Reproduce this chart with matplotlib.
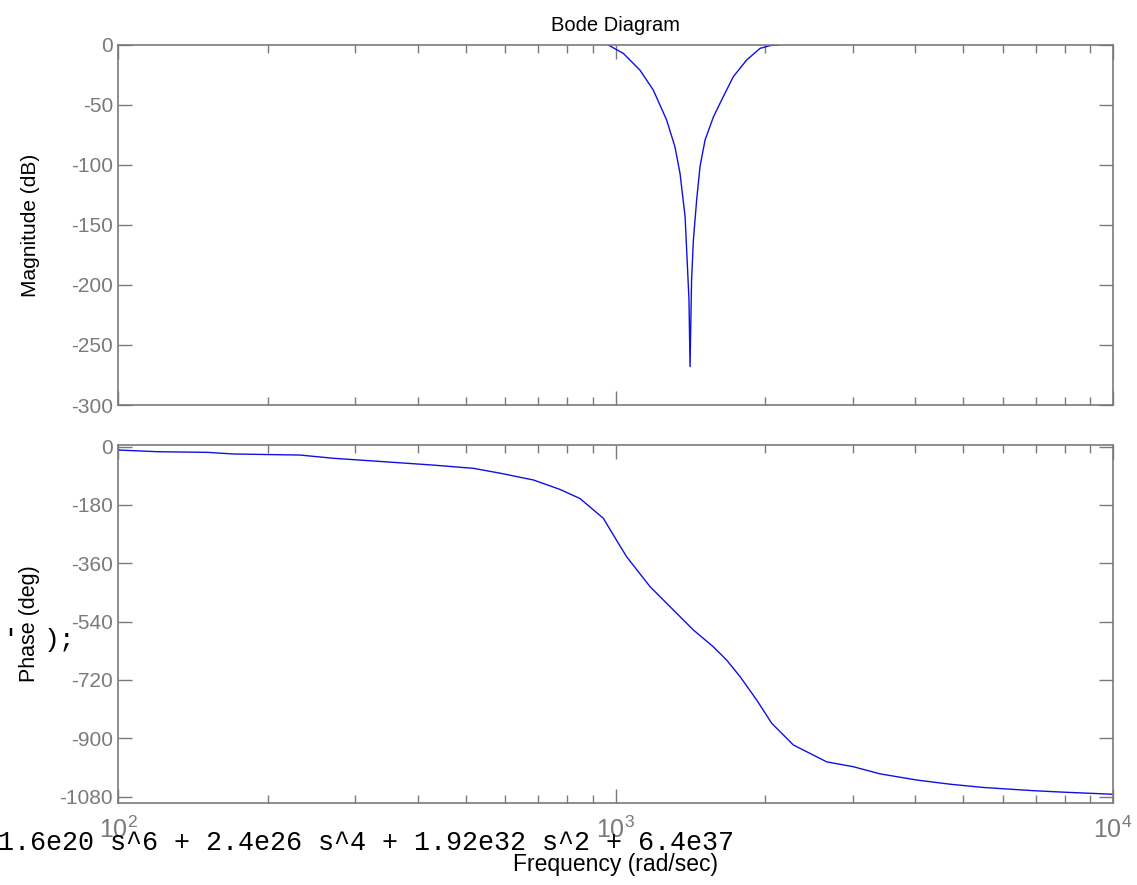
import numpy as np
import matplotlib.pyplot as plt
from matplotlib.ticker import FixedLocator, NullFormatter

# magnitude (notch)
mag_w = [967, 1037, 1120, 1191, 1267, 1317, 1348, 1380, 1397, 1405, 1412,
         1422, 1434, 1456, 1479, 1514, 1573, 1647, 1725, 1835, 1952, 2045, 2125]
mag_db = [0, -7, -21, -37.5, -62.5, -85, -107, -143, -190, -212, -268,
          -196, -162.5, -129, -101, -79, -60, -43, -26.4, -12.5, -2.8, -0.5, 0]

# phase
ph_w = [100, 120, 151, 171, 232, 271, 342, 430, 518, 586, 684, 773, 848,
        945, 1013, 1053, 1173, 1287, 1434, 1573, 1673, 1780, 1922, 2061,
        2278, 2658, 3006, 3401, 4027, 4704, 5483, 6918, 8066, 10000]
ph_deg = [-10.5, -15.7, -17.7, -22.8, -26, -36, -46.5, -57, -67, -82, -103,
          -132, -160, -221, -298, -340, -432, -494, -566, -618, -659, -710,
          -782, -854, -921, -973, -988, -1010, -1029, -1042, -1052, -1062,
          -1067, -1073]

mag_ticks = [0, -50, -100, -150, -200, -250, -300]
ph_ticks = [0, -180, -360, -540, -720, -900, -1080]
x_ticks = [1e2, 1e3, 1e4]
x_labels = ['$10^{2}$', '$10^{3}$', '$10^{4}$']

plt.rcParams['font.family'] = ['Liberation Sans', 'DejaVu Sans']
plt.rcParams['mathtext.fontset'] = 'custom'
plt.rcParams['mathtext.rm'] = 'Liberation Sans'
gray = '#7a7a7a'
blue = '#1010e0'

fig = plt.figure(figsize=(11.37, 8.85), dpi=100)
ax1 = fig.add_axes([118 / 1137, 1 - 405 / 885, 995 / 1137, 360 / 885])
ax2 = fig.add_axes([118 / 1137, 1 - 803 / 885, 995 / 1137, 358 / 885])

minors = [k * 10 ** e for e in (2, 3) for k in range(2, 10)]

for ax in (ax1, ax2):
    ax.set_xscale('log')
    ax.set_xlim(1e2, 1e4)
    ax.xaxis.set_major_locator(FixedLocator(x_ticks))
    ax.xaxis.set_minor_locator(FixedLocator(minors))
    ax.xaxis.set_minor_formatter(NullFormatter())
    ax.tick_params(which='both', direction='in', top=True, right=True,
                   colors=gray, labelsize=15)
    ax.tick_params(which='major', length=10, width=1)
    ax.tick_params(which='minor', length=6, width=1)
    for s in ax.spines.values():
        s.set_color(gray)
        s.set_linewidth(1.2)

ax1.plot(mag_w, mag_db, color=blue, lw=1)
ax1.set_ylim(-300, 0)
ax1.set_yticks(mag_ticks)
ax1.set_yticklabels([str(t) for t in mag_ticks])
ax1.set_xticklabels([])
ax1.set_ylabel('Magnitude (dB)', fontsize=15)
ax1.set_title('Bode Diagram', fontsize=14.5, pad=10)

ax2.plot(ph_w, ph_deg, color=blue, lw=1)
ax2.set_ylim(-1100, 5)
ax2.set_yticks(ph_ticks)
ax2.set_yticklabels([str(t) for t in ph_ticks])
ax2.set_xticklabels(x_labels)
ax2.tick_params(axis='x', which='major', pad=10, labelsize=18)
ax2.set_ylabel('Phase (deg)', fontsize=15.5)
ax2.set_xlabel('Frequency (rad/sec)', fontsize=16.5, labelpad=7)

for ax in (ax1, ax2):
    ax.yaxis.set_label_coords(-78 / 995, 0.5)

# stray command-window text left over in the image
fig.text(-2 / 1137, 1 - 843 / 885, '1.6e20 s^6 + 2.4e26 s^4 + 1.92e32 s^2 + 6.4e37',
         family='Liberation Mono', fontsize=19.3, va='center', ha='left')
fig.text(2 / 1137, 1 - 640 / 885, "'", family='Liberation Mono', fontsize=19,
         va='center', ha='left')
fig.text(44 / 1137, 1 - 640 / 885, ');', family='Liberation Mono', fontsize=19,
         va='center', ha='left')

fig.savefig('out.png', dpi=100)
